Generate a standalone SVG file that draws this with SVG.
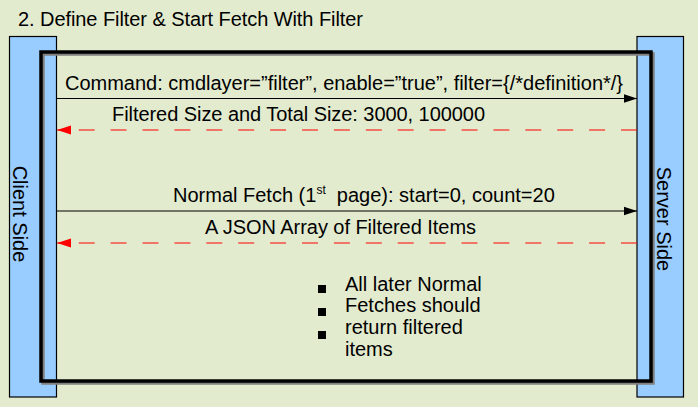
<svg xmlns="http://www.w3.org/2000/svg" width="698" height="407" viewBox="0 0 698 407">
  <style>
    text { font-family: "Liberation Sans", Arial, sans-serif; font-size: 20px; fill: #000; }
    .bar { fill: #99CCFF; stroke: #000; stroke-width: 1.2; }
    .req { stroke: #000; stroke-width: 1.2; fill: none; }
    .resp { stroke: #FF0000; stroke-width: 1.2; fill: none; stroke-dasharray: 16 15.9; }
  </style>
  <defs>
    <marker id="ah-black" markerUnits="userSpaceOnUse" markerWidth="14" markerHeight="10" refX="13" refY="5" orient="auto">
      <polygon points="0,0.8 13,5 0,9.2" fill="#000"/>
    </marker>
    <marker id="ah-red" markerUnits="userSpaceOnUse" markerWidth="15" markerHeight="11" refX="14" refY="5.5" orient="auto">
      <polygon points="0,1 14,5.5 0,10" fill="#FF0000"/>
    </marker>
  </defs>
  <rect width="698" height="407" fill="#E3EBCF"/>

  <text x="18" y="26" textLength="345">2. Define Filter &amp; Start Fetch With Filter</text>

  <g id="client">
    <rect class="bar" x="9.5" y="36.5" width="47" height="360.5"/>
    <text transform="translate(13,214) rotate(90)" text-anchor="middle">Client Side</text>
  </g>
  <g id="server">
    <rect class="bar" x="637" y="36.5" width="46.5" height="360.5"/>
    <text transform="translate(657,219) rotate(90)" text-anchor="middle">Server Side</text>
  </g>

  <g id="frame">
    <rect x="43" y="54" width="610" height="329" fill="none" stroke="#808080" stroke-width="3.5"/>
    <rect x="41" y="52" width="610" height="329" fill="none" stroke="#000" stroke-width="3.5"/>
  </g>

  <g id="connectors">
    <line class="req" x1="57" y1="98.5" x2="637" y2="98.5" marker-end="url(#ah-black)"/>
    <line class="resp" x1="637" y1="130" x2="57" y2="130" marker-end="url(#ah-red)"/>
    <line class="req" x1="57" y1="211" x2="637" y2="211" marker-end="url(#ah-black)"/>
    <line class="resp" x1="637" y1="243" x2="57" y2="243" marker-end="url(#ah-red)"/>
  </g>

  <g id="labels">
    <text x="65" y="90" textLength="558">Command: cmdlayer=”filter”, enable=”true”, filter={/*definition*/}</text>
    <text x="112" y="121" textLength="373">Filtered Size and Total Size: 3000, 100000</text>
    <text x="173" y="202">Normal Fetch (1<tspan font-size="12" dy="-8">st</tspan><tspan dy="8" xml:space="preserve">  page): start=0, count=20</tspan></text>
    <text x="205" y="234" textLength="271">A JSON Array of Filtered Items</text>
  </g>

  <g id="note">
    <rect x="318" y="285" width="8" height="8" fill="#000"/>
    <rect x="318" y="308" width="8" height="8" fill="#000"/>
    <rect x="318" y="331" width="8" height="8" fill="#000"/>
    <text x="345" y="291">All later Normal</text>
    <text x="345" y="312">Fetches should</text>
    <text x="345" y="334">return filtered</text>
    <text x="345" y="356">items</text>
  </g>
</svg>
